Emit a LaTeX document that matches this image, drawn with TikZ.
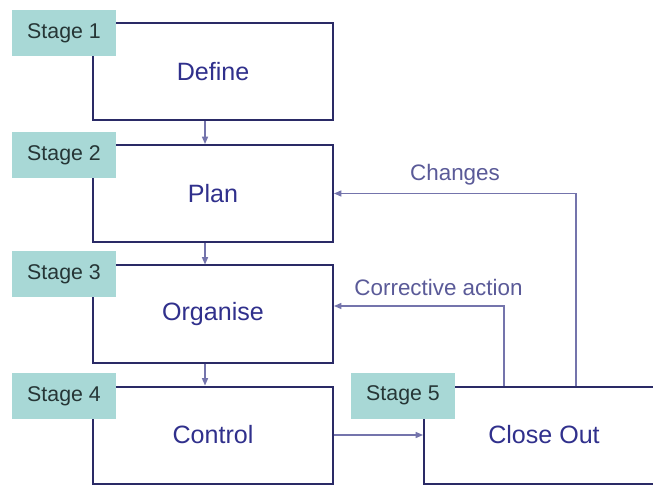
\documentclass[tikz,border=0pt]{standalone}
\usepackage{fontspec}
\setmainfont{Liberation Sans}
\usetikzlibrary{arrows.meta}
\definecolor{boxline}{HTML}{2A2A66}
\definecolor{boxtext}{HTML}{30308C}
\definecolor{linkline}{HTML}{7474AC}
\definecolor{linktext}{HTML}{5A5A98}
\definecolor{tagfill}{HTML}{A8D8D6}
\definecolor{tagtext}{HTML}{263636}
\begin{document}
\begin{tikzpicture}[x=0.75pt,y=-0.75pt,
  stagebox/.style={draw=boxline,line width=1.5pt,fill=white,minimum width=240*0.75pt,
    minimum height=97*0.75pt,inner sep=0pt,text=boxtext,font=\fontsize{18.8}{20}\selectfont},
  stagetag/.style={fill=tagfill,minimum width=104*0.75pt,minimum height=46*0.75pt,
    inner sep=0pt,text=tagtext,font=\fontsize{16}{18}\selectfont},
  link/.style={draw=linkline,line width=1pt,-{Triangle[length=5.5pt,width=4.5pt]}},
  linklabel/.style={text=linktext,font=\fontsize{16.8}{18}\selectfont,inner sep=0pt}]
\useasboundingbox (0,0) rectangle (653,495);
\fill[white] (0,0) rectangle (653,495);

% main stages
\node[stagebox] (b1) at (213,71.5) {Define};
\node[stagebox] (b2) at (213,193.5) {Plan};
\node[stagebox] (b3) at (213,314) {Organise};
\node[stagebox] (b4) at (213,435) {Control};
\node[stagebox] (b5) at (544,435) {Close Out};

% stage tags over the top-left corners
\node[stagetag] (s1) at (64,33) {Stage 1};
\node[stagetag] (s2) at (64,155) {Stage 2};
\node[stagetag] (s3) at (64,274.5) {Stage 3};
\node[stagetag] (s4) at (64,396) {Stage 4};
\node[stagetag] (s5) at (403,395.5) {Stage 5};

% forward flow
\draw[link] ([xshift=-6pt]b1.south) -- ([xshift=-6pt]b2.north);
\draw[link] ([xshift=-6pt]b2.south) -- ([xshift=-6pt]b3.north);
\draw[link] ([xshift=-6pt]b3.south) -- ([xshift=-6pt]b4.north);
\draw[link] (b4.east) -- (b5.west);

% feedback loops
\coordinate (cb) at (576,386);
\coordinate (ca) at (504,386);
\draw[link] (cb) |- (b2.east);
\draw[link] (ca) |- ([yshift=6pt]b3.east);
\node[linklabel] (lc) at (455,175) {Changes};
\node[linklabel] (la) at (438.5,287) {Corrective action};
\end{tikzpicture}
\end{document}
